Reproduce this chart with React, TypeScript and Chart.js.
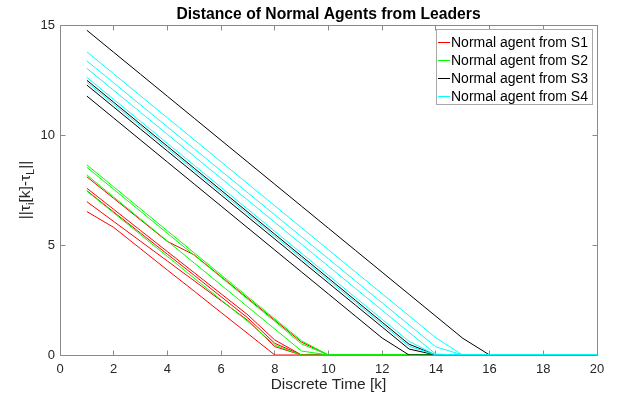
import React, { useEffect, useRef } from "react";
import { Chart, registerables } from "chart.js";

Chart.register(...registerables);

// ---- data ----
const kSteps = [1, 2, 3, 4, 5, 6, 7, 8, 9, 10, 11, 12, 13, 14, 15, 16, 17, 18, 19, 20];
const xTicks = [0, 2, 4, 6, 8, 10, 12, 14, 16, 18, 20];
const yTicks = [0, 5, 10, 15];

const legendLabels = [
  "Normal agent from S1",
  "Normal agent from S2",
  "Normal agent from S3",
  "Normal agent from S4",
];
const leaderColors = ["#ff0000", "#00ff00", "#000000", "#00ffff"];

// S1 (red)
const s1Agent1 = [8.1, 7.12, 6.14, 5.16, 4.55, 3.56, 2.57, 1.58, 0.58, 0, 0, 0, 0, 0, 0, 0, 0, 0, 0, 0];
const s1Agent2 = [7.58, 6.62, 5.66, 4.7, 3.74, 2.78, 1.82, 0.68, 0, 0, 0, 0, 0, 0, 0, 0, 0, 0, 0, 0];
const s1Agent3 = [7.47, 6.5, 5.54, 4.58, 3.62, 2.65, 1.68, 0.53, 0, 0, 0, 0, 0, 0, 0, 0, 0, 0, 0, 0];
const s1Agent4 = [6.97, 6.07, 5.17, 4.27, 3.37, 2.47, 1.57, 0.38, 0, 0, 0, 0, 0, 0, 0, 0, 0, 0, 0, 0];
const s1Agent5 = [6.52, 5.8, 4.83, 3.86, 2.9, 1.93, 0.97, 0, 0, 0, 0, 0, 0, 0, 0, 0, 0, 0, 0, 0];

// S2 (green)
const s2Agent1 = [8.64, 7.64, 6.64, 5.64, 4.64, 3.64, 2.64, 1.64, 0.64, 0, 0, 0, 0, 0, 0, 0, 0, 0, 0, 0];
const s2Agent2 = [8.53, 7.53, 6.53, 5.53, 4.53, 3.53, 2.53, 1.53, 0.5, 0, 0, 0, 0, 0, 0, 0, 0, 0, 0, 0];
const s2Agent3 = [8.18, 7.18, 6.18, 5.18, 4.18, 3.18, 2.18, 1.18, 0.18, 0, 0, 0, 0, 0, 0, 0, 0, 0, 0, 0];
const s2Agent4 = [7.45, 6.46, 5.47, 4.48, 3.49, 2.5, 1.52, 0.45, 0, 0, 0, 0, 0, 0, 0, 0, 0, 0, 0, 0];

// S3 (black)
const s3Agent1 = [14.76, 13.76, 12.76, 11.76, 10.76, 9.76, 8.76, 7.76, 6.76, 5.76, 4.76, 3.76, 2.76, 1.76, 0.76, 0, 0, 0, 0, 0];
const s3Agent2 = [12.49, 11.49, 10.49, 9.49, 8.49, 7.49, 6.49, 5.49, 4.49, 3.49, 2.49, 1.49, 0.49, 0, 0, 0, 0, 0, 0, 0];
const s3Agent3 = [12.27, 11.27, 10.27, 9.27, 8.27, 7.27, 6.27, 5.27, 4.27, 3.27, 2.27, 1.27, 0.27, 0, 0, 0, 0, 0, 0, 0];
const s3Agent4 = [11.77, 10.77, 9.77, 8.77, 7.77, 6.77, 5.77, 4.77, 3.77, 2.77, 1.77, 0.77, 0, 0, 0, 0, 0, 0, 0, 0];

// S4 (cyan)
const s4Agent1 = [13.78, 12.78, 11.78, 10.78, 9.78, 8.78, 7.78, 6.78, 5.78, 4.78, 3.78, 2.78, 1.78, 0.78, 0, 0, 0, 0, 0, 0];
const s4Agent2 = [13.37, 12.37, 11.37, 10.37, 9.37, 8.37, 7.37, 6.37, 5.37, 4.37, 3.37, 2.37, 1.37, 0.37, 0, 0, 0, 0, 0, 0];
const s4Agent3 = [13.03, 12.03, 11.03, 10.03, 9.03, 8.03, 7.03, 6.03, 5.03, 4.03, 3.03, 2.03, 1.03, 0.04, 0, 0, 0, 0, 0, 0];
const s4Agent4 = [12.62, 11.62, 10.62, 9.62, 8.62, 7.62, 6.62, 5.62, 4.62, 3.62, 2.62, 1.62, 0.62, 0, 0, 0, 0, 0, 0, 0];
const s4Agent5 = [12.4, 11.4, 10.4, 9.4, 8.4, 7.4, 6.4, 5.4, 4.4, 3.4, 2.4, 1.4, 0.4, 0, 0, 0, 0, 0, 0, 0];

const groups = [
  [s1Agent1, s1Agent2, s1Agent3, s1Agent4, s1Agent5],
  [s2Agent1, s2Agent2, s2Agent3, s2Agent4],
  [s3Agent1, s3Agent2, s3Agent3, s3Agent4],
  [s4Agent1, s4Agent2, s4Agent3, s4Agent4, s4Agent5],
];

const FONT = "'Liberation Sans', Arial, Helvetica, sans-serif";
const TEXT = "#262626";
const AXIS = "#8a8a8a";

const framePlugin = {
  id: "frame",
  beforeDatasetsDraw(chart: any) {
    const { ctx, chartArea: a, scales } = chart;
    ctx.save();
    ctx.strokeStyle = AXIS;
    ctx.lineWidth = 1;
    const L = Math.floor(a.left) + 0.5;
    const R = Math.floor(a.right) + 0.5;
    const T = Math.floor(a.top) + 0.5;
    const B = Math.floor(a.bottom) + 0.5;
    ctx.beginPath();
    ctx.rect(L, T, R - L, B - T);
    for (const v of xTicks) {
      const px = Math.floor(scales.x.getPixelForValue(v)) + 0.5;
      ctx.moveTo(px, B);
      ctx.lineTo(px, B - 5);
      ctx.moveTo(px, T);
      ctx.lineTo(px, T + 5);
    }
    for (const v of yTicks) {
      const py = Math.floor(scales.y.getPixelForValue(v)) + 0.5;
      ctx.moveTo(L, py);
      ctx.lineTo(L + 5, py);
      ctx.moveTo(R, py);
      ctx.lineTo(R - 5, py);
    }
    ctx.stroke();
    ctx.restore();
  },
  afterDraw(chart: any) {
    const { ctx, chartArea: a } = chart;
    const cx = (a.left + a.right) / 2;
    ctx.save();
    // title
    ctx.fillStyle = "#000";
    ctx.font = `bold 15.7px ${FONT}`;
    ctx.textAlign = "center";
    ctx.textBaseline = "alphabetic";
    ctx.fillText("Distance of Normal Agents from Leaders", cx, 18.5);
    // x label
    ctx.fillStyle = TEXT;
    ctx.font = `15.5px ${FONT}`;
    ctx.fillText("Discrete Time [k]", cx, 388.5);
    // y label with subscripts
    const parts: [string, boolean][] = [
      ["||\u03c4", false],
      ["i", true],
      ["[k]-\u03c4", false],
      ["L", true],
      ["||", false],
    ];
    const big = `15.5px ${FONT}`;
    const small = `11px ${FONT}`;
    let total = 0;
    for (const [t, sub] of parts) {
      ctx.font = sub ? small : big;
      total += ctx.measureText(t).width;
    }
    ctx.translate(30, (a.top + a.bottom) / 2);
    ctx.rotate(-Math.PI / 2);
    ctx.textAlign = "left";
    let x = -total / 2;
    for (const [t, sub] of parts) {
      ctx.font = sub ? small : big;
      ctx.fillText(t, x, sub ? 4 : 0);
      x += ctx.measureText(t).width;
    }
    ctx.restore();

    // legend
    ctx.save();
    const lx = 436.5, ly = 29.5, lw = 156, lh = 75;
    ctx.fillStyle = "#fff";
    ctx.fillRect(lx, ly, lw, lh);
    ctx.strokeStyle = "#a8a8a8";
    ctx.lineWidth = 1;
    ctx.strokeRect(lx, ly, lw, lh);
    ctx.font = `14px ${FONT}`;
    ctx.textAlign = "left";
    ctx.textBaseline = "middle";
    legendLabels.forEach((lab, i) => {
      const y = 42 + i * 18;
      ctx.strokeStyle = leaderColors[i];
      ctx.beginPath();
      ctx.moveTo(438, y + 0.5);
      ctx.lineTo(450, y + 0.5);
      ctx.stroke();
      ctx.fillStyle = "#000";
      ctx.fillText(lab, 451, y + 1);
    });
    ctx.restore();
  },
};

export default function App() {
  const ref = useRef<HTMLCanvasElement>(null);
  useEffect(() => {
    const datasets: any[] = [];
    groups.forEach((g, gi) => {
      g.forEach((vals, ai) => {
        datasets.push({
          label: `${legendLabels[gi]} #${ai + 1}`,
          data: kSteps.map((k, i) => ({ x: k, y: vals[i] })),
          borderColor: leaderColors[gi],
          backgroundColor: leaderColors[gi],
          borderWidth: 1,
          pointRadius: 0,
          tension: 0,
          fill: false,
        });
      });
    });
    const n = datasets.length;
    datasets.forEach((d, i) => (d.order = n - i));

    const chart = new Chart(ref.current as HTMLCanvasElement, {
      type: "line",
      data: { datasets },
      options: {
        responsive: false,
        animation: false,
        devicePixelRatio: 1,
        layout: { padding: { top: 25, right: 24, left: 0, bottom: 0 } },
        plugins: {
          legend: { display: false },
          title: { display: false },
          tooltip: { enabled: false },
        },
        scales: {
          x: {
            type: "linear",
            min: 0,
            max: 20,
            grid: { display: false, drawTicks: false },
            border: { display: false },
            ticks: {
              stepSize: 2,
              padding: 7,
              color: TEXT,
              font: { family: FONT, size: 13 },
              maxRotation: 0,
              autoSkip: false,
            },
            afterFit(s: any) {
              s.height = 45;
            },
          },
          y: {
            type: "linear",
            min: 0,
            max: 15,
            grid: { display: false, drawTicks: false },
            border: { display: false },
            ticks: {
              stepSize: 5,
              padding: 5,
              color: TEXT,
              font: { family: FONT, size: 13 },
            },
            afterFit(s: any) {
              s.width = 60;
            },
          },
        },
      } as any,
      plugins: [framePlugin],
    });
    return () => chart.destroy();
  }, []);
  return (
    <div style={{ position: "fixed", left: 0, top: 0, width: 621, height: 400, background: "#fff" }}>
      <canvas ref={ref} width={621} height={400} style={{ display: "block", width: 621, height: 400 }} />
    </div>
  );
}
